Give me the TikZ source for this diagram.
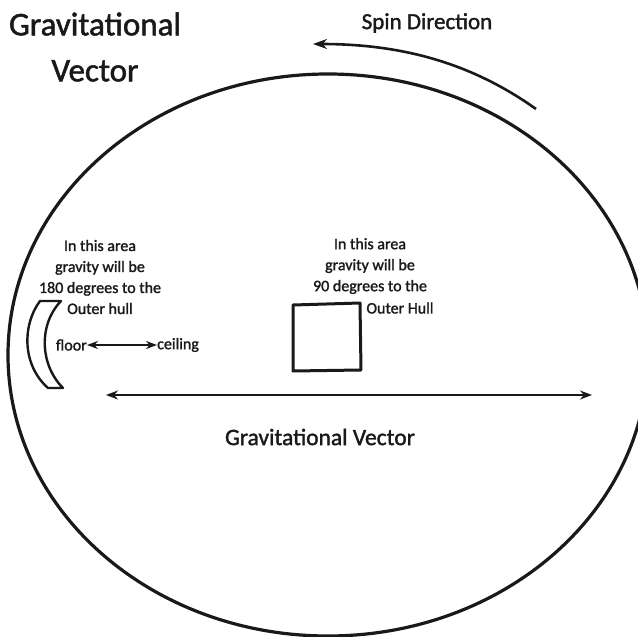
\documentclass[tikz,border=0pt]{standalone}
\usepackage{fontspec}
\setmainfont{Carlito}[FakeBold=1.5]
\usetikzlibrary{arrows.meta}
\tikzset{
  lbl/.style={inner sep=0pt, align=center, text=black!90},
  small/.style={lbl, font=\fontsize{16}{21}\selectfont},
  thickline/.style={line width=3.2pt, black!90},
  gvec/.style={line width=1.8pt, black!90, {Stealth[length=12pt,width=9pt]}-{Stealth[length=12pt,width=9pt]}},
}
\begin{document}
\begin{tikzpicture}[x=1pt,y=-1pt]
\useasboundingbox (0,0) rectangle (638,637);
\clip (0,0) rectangle (638,637);
% hull
\draw[thickline] (328,355) ellipse [x radius=320, y radius=281];
% title
\node[lbl, font=\fontsize{33}{46}\selectfont] (title) at (95,47) {Gravitational\\Vector};
% spin direction
\node[lbl, font=\fontsize{23}{28}\selectfont] (spin) at (427,23) {Spin Direction};
\coordinate (spinS) at (536,109);
\coordinate (spinE) at (313,44);
\draw[line width=2.6pt, black!90, -{Stealth[length=14pt,width=10pt]}] (spinS) .. controls (470,62) and (400,44) .. (spinE);
% left area
\node[small] (lefttxt) at (100,277) {In this area\\gravity will be\\180 degrees to the\\Outer hull};
\draw[line width=2.4pt, black!90, line join=round] (40,301) -- (61,301) .. controls (38,325) and (40,365) .. (63,388) -- (48,388) .. controls (22,365) and (22,325) .. (40,301) -- cycle;
\node[small, anchor=east] (floor) at (87,345) {floor};
\node[small, anchor=west] (ceiling) at (157,345) {ceiling};
\draw[line width=1.8pt, black!90, {Stealth[length=11pt,width=8pt]}-{Stealth[length=11pt,width=8pt]}] (floor.east) -- (ceiling.west);
% middle area
\node[small] (midtxt) at (370,266) {In this area\\gravity will be\\90 degrees to the};
\node[small] (midtxt2) at (400,308) {Outer Hull};
\draw[line width=3pt, black!90, line join=round] (293,305) -- (360,303) -- (361,370) -- (293,371) -- cycle;
% gravitational vector
\coordinate (gvL) at (106,395);
\coordinate (gvR) at (592,395);
\draw[gvec] (gvL) -- (gvR);
\node[lbl, font=\fontsize{23.5}{28}\selectfont] (gvtxt) at (320,437) {Gravitational Vector};
\end{tikzpicture}
\end{document}
